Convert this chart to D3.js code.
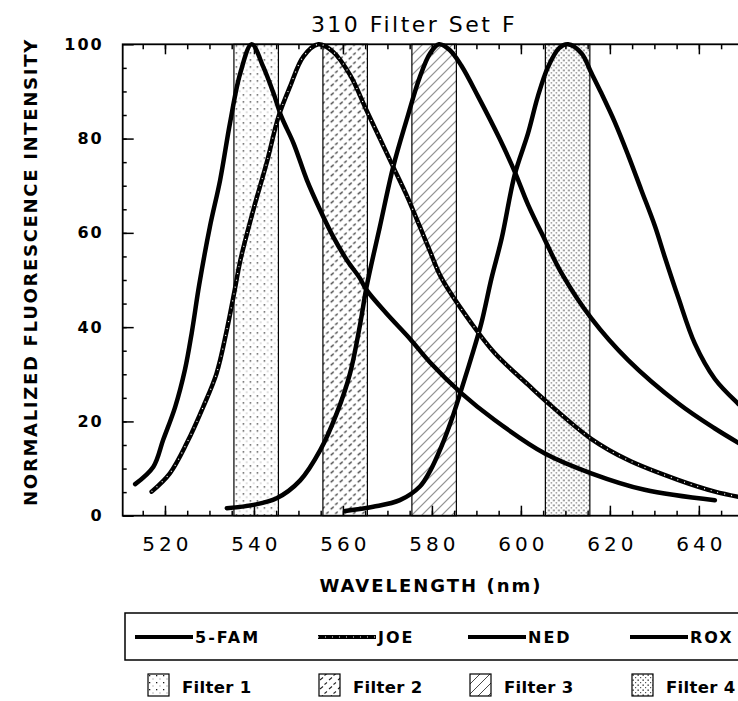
<!DOCTYPE html>
<html>
<head>
<meta charset="utf-8">
<script src="https://cdn.jsdelivr.net/npm/d3@7"></script>
<style>
  body { margin: 0; background: #fff; }
  svg { display: block; }
</style>
</head>
<body>
<div id="wrapper"></div>
<script>
const LINE_COLOR = "black";
const DOT_DARK = "#1a1a1a";
const DOT_LIGHT = "#7a7a7a";

// emission curves, [wavelength nm, normalized intensity]
const famData = [
  [513.3, 6.7], [517.4, 10.4], [519.6, 16.1], [522.3, 23.1], [524.5, 31.0],
  [526.0, 38.7], [527.7, 49.0], [530.1, 61.3], [532.4, 71.2], [534.6, 83.2],
  [536.9, 93.8], [539.5, 100], [542.1, 95.2], [544.4, 89.6], [546.2, 84.6],
  [548.9, 79.0], [551.9, 71.2], [554.9, 64.8], [557.8, 59.2], [560.9, 54.2],
  [563.8, 50.4], [565.3, 47.9], [569.8, 42.9], [575.1, 37.5], [579.6, 32.5],
  [586.6, 26.0], [594.1, 20.3], [605.4, 13.2], [615.8, 9.0], [627.8, 5.5],
  [643.6, 3.3]
];
const joeData = [
  [517.0, 5.1], [521.1, 9.0], [524.9, 15.4], [528.6, 23.1], [531.6, 30.2],
  [533.9, 39.4], [535.7, 48.0], [536.9, 54.0], [539.9, 65.0], [542.9, 75.0],
  [545.5, 84.6], [548.1, 91.0], [551.1, 97.4], [554.5, 100], [557.8, 98.4],
  [561.6, 93.5], [565.3, 86.0], [568.3, 80.0], [571.3, 74.0], [574.3, 68.0],
  [577.3, 61.3], [579.6, 56.0], [582.1, 50.5], [588.9, 40.8], [594.1, 34.5],
  [601.6, 27.8], [605.4, 24.5], [615.8, 16.3], [624.1, 11.8], [635.3, 7.6],
  [643.6, 5.1], [650.0, 3.8]
];
const nedData = [
  [533.9, 1.6], [539.9, 2.3], [545.1, 3.7], [550.4, 7.5], [554.9, 13.9],
  [558.6, 21.7], [561.6, 30.2], [563.9, 40.8], [565.3, 48.5], [568.3, 61.3],
  [571.3, 74.0], [574.3, 83.9], [577.3, 93.1], [579.6, 98.1], [581.6, 100],
  [584.0, 98.8], [586.6, 95.5], [590.4, 88.9], [595.2, 80.0], [598.6, 73.0],
  [601.6, 66.0], [605.4, 58.5], [609.1, 51.5], [615.8, 41.9], [624.1, 33.0],
  [635.4, 23.8], [643.6, 18.5], [651.0, 14.3]
];
const roxData = [
  [560.5, 1.0], [566.8, 1.9], [572.8, 3.3], [577.3, 6.2], [579.6, 9.5],
  [582.1, 14.6], [584.4, 20.3], [586.6, 26.7], [588.9, 33.7], [591.1, 40.8],
  [593.4, 50.4], [595.7, 58.9], [598.6, 72.3], [601.6, 81.1], [603.8, 88.9],
  [606.1, 95.2], [608.6, 99.2], [610.6, 100], [613.6, 98.1], [615.8, 94.0],
  [618.1, 89.6], [621.1, 83.5], [624.1, 76.5], [627.1, 69.0], [630.1, 61.5],
  [632.3, 55.0], [635.3, 46.5], [639.1, 36.5], [643.6, 29.0], [648.8, 23.8],
  [651.0, 22.0]
];

const dyeNames = ["5-FAM", "JOE", "NED", "ROX"];
const filterNames = ["Filter 1", "Filter 2", "Filter 3", "Filter 4"];
const filterBands = [[535.5, 545.5], [555.5, 565.5], [575.5, 585.5], [605.5, 615.5]];
const xTickValues = [520, 540, 560, 580, 600, 620, 640];
const yTickValues = [0, 20, 40, 60, 80, 100];

function drawChart() {
  let dimensions = {
    width: 738,
    height: 701,
    margin: { top: 44.3, left: 122.7 }
  };
  // the plot runs off the right side of the picture
  dimensions.boundedWidth = 625.1;
  dimensions.boundedHeight = 471.4;

  const wrapper = d3.select("#wrapper")
    .append("svg")
    .attr("width", dimensions.width)
    .attr("height", dimensions.height)
    .style("font-family", "'DejaVu Sans', sans-serif");

  const defs = wrapper.append("defs");

  // filter fills
  const p1 = defs.append("pattern").attr("id", "fill-1")
    .attr("patternUnits", "userSpaceOnUse").attr("width", 7).attr("height", 7);
  p1.append("rect").attr("x", 1).attr("y", 1).attr("width", 1.3).attr("height", 1.3).attr("fill", DOT_DARK);
  p1.append("rect").attr("x", 4.5).attr("y", 4.5).attr("width", 1).attr("height", 1).attr("fill", DOT_LIGHT);

  const p2 = defs.append("pattern").attr("id", "fill-2")
    .attr("patternUnits", "userSpaceOnUse").attr("width", 9).attr("height", 9);
  p2.append("path").attr("d", "M1,6 L4,3.5 M5.5,1.5 L8,-0.5 M5.5,10.5 L8,8.5")
    .attr("stroke", "#222").attr("stroke-width", 1.1).attr("fill", "none");

  const p3 = defs.append("pattern").attr("id", "fill-3")
    .attr("patternUnits", "userSpaceOnUse").attr("width", 10).attr("height", 10);
  p3.append("path").attr("d", "M0,10 L10,0 M-2,2 L2,-2 M8,12 L12,8")
    .attr("stroke", "#333").attr("stroke-width", 0.9).attr("fill", "none");

  const p4 = defs.append("pattern").attr("id", "fill-4")
    .attr("patternUnits", "userSpaceOnUse").attr("width", 5).attr("height", 5);
  p4.append("rect").attr("x", 0.5).attr("y", 0.5).attr("width", 1.3).attr("height", 1.3).attr("fill", DOT_DARK);
  p4.append("rect").attr("x", 3).attr("y", 3).attr("width", 1.2).attr("height", 1.2).attr("fill", "#555");

  const bounds = wrapper.append("g")
    .attr("transform", `translate(${dimensions.margin.left}, ${dimensions.margin.top})`);

  const xScale = d3.scaleLinear()
    .domain([510.5, 651])
    .range([0, dimensions.boundedWidth]);

  const yScale = d3.scaleLinear()
    .domain([0, 100])
    .range([dimensions.boundedHeight, 0]);

  // filter bands
  bounds.append("g")
    .selectAll("rect")
    .data(filterBands)
    .enter().append("rect")
    .attr("x", d => xScale(d[0]))
    .attr("y", 0)
    .attr("width", d => xScale(d[1]) - xScale(d[0]))
    .attr("height", dimensions.boundedHeight)
    .attr("fill", (d, i) => `url(#fill-${i + 1})`)
    .attr("stroke", "black")
    .attr("stroke-width", 1.2);

  // axes
  const tidy = g => {
    g.select(".domain").remove();
    g.selectAll(".tick line").attr("stroke", "black").attr("stroke-width", 1.5);
  };
  const minorX = d3.range(515, 651, 5);
  const minorY = d3.range(5, 100, 5);

  bounds.append("g")
    .attr("transform", `translate(0, ${dimensions.boundedHeight})`)
    .call(d3.axisBottom(xScale).tickValues(minorX).tickSize(-5).tickFormat(""))
    .call(tidy);

  const xAxis = bounds.append("g")
    .attr("transform", `translate(0, ${dimensions.boundedHeight})`)
    .call(d3.axisBottom(xScale).tickValues(xTickValues).tickSize(-10).tickPadding(21))
    .call(tidy);
  xAxis.selectAll("text")
    .attr("fill", "black")
    .attr("dx", 2)
    .style("font-size", "20px")
    .style("letter-spacing", "4px")
    .style("font-family", "'DejaVu Sans', sans-serif");

  bounds.append("g")
    .call(d3.axisTop(xScale).tickValues(minorX).tickSize(-5).tickFormat(""))
    .call(tidy);
  bounds.append("g")
    .call(d3.axisTop(xScale).tickValues(xTickValues).tickSize(-10).tickFormat(""))
    .call(tidy);

  bounds.append("g")
    .call(d3.axisLeft(yScale).tickValues(minorY).tickSize(-4).tickFormat(""))
    .call(tidy);

  const yAxis = bounds.append("g")
    .call(d3.axisLeft(yScale).tickValues(yTickValues).tickSize(-11).tickPadding(19))
    .call(tidy);
  yAxis.selectAll("text")
    .attr("fill", "black")
    .style("font-size", "16px")
    .style("font-weight", "bold")
    .style("letter-spacing", "2px")
    .style("font-family", "'DejaVu Sans', sans-serif");

  // frame
  bounds.append("rect")
    .attr("width", dimensions.boundedWidth)
    .attr("height", dimensions.boundedHeight)
    .attr("fill", "none")
    .attr("stroke", "black")
    .attr("stroke-width", 1.8);

  // curves
  const lineGenerator = d3.line()
    .x(d => xScale(d[0]))
    .y(d => yScale(d[1]))
    .curve(d3.curveCatmullRom.alpha(0.5));

  const series = [famData, joeData, nedData, roxData];
  bounds.append("g")
    .selectAll("path")
    .data(series)
    .enter().append("path")
    .attr("d", lineGenerator)
    .attr("fill", "none")
    .attr("stroke", LINE_COLOR)
    .attr("stroke-width", 4.5)
    .attr("stroke-linejoin", "round")
    .attr("stroke-linecap", "round");

  // JOE has white specks along it
  bounds.append("path")
    .attr("d", lineGenerator(joeData))
    .attr("fill", "none")
    .attr("stroke", "white")
    .attr("stroke-width", 1.2)
    .attr("stroke-dasharray", "1 6");

  // titles
  wrapper.append("text")
    .attr("x", 414)
    .attr("y", 32)
    .attr("text-anchor", "middle")
    .style("font-size", "22px")
    .style("letter-spacing", "2.5px")
    .text("310 Filter Set F");

  wrapper.append("text")
    .attr("x", 431)
    .attr("y", 592)
    .attr("text-anchor", "middle")
    .style("font-size", "18px")
    .style("font-weight", "bold")
    .style("letter-spacing", "2px")
    .text("WAVELENGTH (nm)");

  wrapper.append("text")
    .attr("transform", "translate(36.5, 272) rotate(-90)")
    .attr("text-anchor", "middle")
    .style("font-size", "18px")
    .style("font-weight", "bold")
    .style("letter-spacing", "1.7px")
    .text("NORMALIZED FLUORESCENCE INTENSITY");

  // legend
  const legend = wrapper.append("g");
  legend.append("rect")
    .attr("x", 125)
    .attr("y", 613)
    .attr("width", 640)
    .attr("height", 47)
    .attr("fill", "none")
    .attr("stroke", "black")
    .attr("stroke-width", 1.5);

  const dyeX = [135, 318, 468, 630];
  const sampleLength = 58;
  const dyeItems = legend.selectAll(".dye")
    .data(dyeNames)
    .enter().append("g")
    .attr("class", "dye")
    .attr("transform", (d, i) => `translate(${dyeX[i]}, 637)`);

  dyeItems.append("line")
    .attr("x2", sampleLength)
    .attr("stroke", "black")
    .attr("stroke-width", 4);
  dyeItems.filter(d => d === "JOE")
    .append("line")
    .attr("x2", sampleLength)
    .attr("stroke", "white")
    .attr("stroke-width", 1.2)
    .attr("stroke-dasharray", "1 6");
  dyeItems.append("text")
    .attr("x", sampleLength + 2)
    .attr("y", 6)
    .style("font-size", "16px")
    .style("font-weight", "bold")
    .style("letter-spacing", "2px")
    .text(d => d);

  const filterX = [148, 319, 470, 632];
  const filterItems = legend.selectAll(".filter")
    .data(filterNames)
    .enter().append("g")
    .attr("class", "filter")
    .attr("transform", (d, i) => `translate(${filterX[i]}, 674)`);

  filterItems.append("rect")
    .attr("width", 21)
    .attr("height", 22)
    .attr("fill", (d, i) => `url(#fill-${i + 1})`)
    .attr("stroke", "black")
    .attr("stroke-width", 1.2);
  filterItems.append("text")
    .attr("x", 34)
    .attr("y", 18.5)
    .style("font-size", "16.5px")
    .style("font-weight", "bold")
    .style("letter-spacing", "0.3px")
    .text(d => d);
}

drawChart();
</script>
</body>
</html>
